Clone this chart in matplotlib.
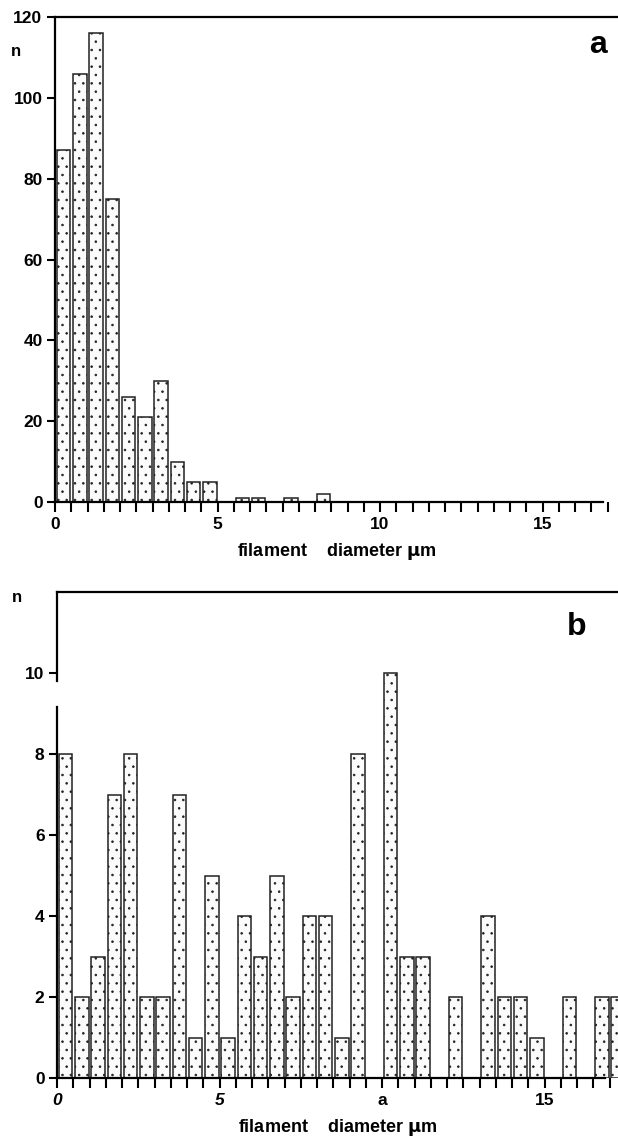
import numpy as np
import matplotlib.pyplot as plt
from matplotlib.ticker import MultipleLocator, FixedLocator

plt.rcParams['font.family'] = ['Liberation Sans', 'DejaVu Sans']
plt.rcParams['font.weight'] = 'bold'
plt.rcParams['hatch.color'] = '#8c8c8c'
plt.rcParams['hatch.linewidth'] = 0.6

# histogram data, bin width 0.5 um
bin_w = 0.5
counts_a = [87, 106, 116, 75, 26, 21, 30, 10, 5, 5, 0, 1, 1, 0, 1, 0, 2]
counts_b = [8, 2, 3, 7, 8, 2, 2, 7, 1, 5, 1, 4, 3, 5, 2, 4, 4, 1, 8, 0,
            10, 3, 3, 0, 2, 0, 4, 2, 2, 1, 0, 2, 0, 2, 2]
yticks_a = [0, 20, 40, 60, 80, 100, 120]
yticks_b = [0, 2, 4, 6, 8, 10]
xticks = [0, 5, 10, 15]
xlabels_a = ['0', '5', '10', '15']
xlabels_b = ['0', '5', 'a', '15']

W, H = 618, 1144
fig = plt.figure(figsize=(W / 100, H / 100), dpi=100)
ax1 = fig.add_axes([55 / W, (H - 502) / H, 1 - 55 / W, (502 - 17) / H])
ax2 = fig.add_axes([57 / W, (H - 1078) / H, 1 - 57 / W, (1078 - 592) / H])


def draw(ax, counts, x0, ymax, yticks, xlabels, tag, tagpos):
    left = np.arange(len(counts)) * bin_w + 0.06
    ax.bar(left, counts, width=0.41, align='edge', facecolor='#fbfbfb',
           edgecolor='#222222', linewidth=1.1, hatch='..', zorder=2)
    ax.set_xlim(0, (W - x0) / 32.5)
    ax.set_ylim(0, ymax)
    ax.spines['right'].set_visible(False)
    for s in ['left', 'bottom', 'top']:
        ax.spines[s].set_linewidth(1.6)
    ax.spines['bottom'].set_bounds(0, 16.85)
    ax.xaxis.set_major_locator(FixedLocator(xticks))
    ax.xaxis.set_minor_locator(MultipleLocator(0.5))
    ax.set_xticklabels(xlabels)
    ax.yaxis.set_major_locator(FixedLocator(yticks))
    ax.tick_params(axis='x', which='both', direction='out', length=7, width=1.5,
                   labelsize=12.5, pad=4)
    ax.tick_params(axis='y', direction='out', length=6, width=1.5,
                   labelsize=12.5, pad=3)
    ax.set_xlabel('filament    diameter $\\mathbf{\\mu}$m', fontsize=13,
                  fontweight='bold', labelpad=6)
    ax.text(tagpos[0], tagpos[1], tag, transform=fig.transFigure, fontsize=23,
            fontweight='bold', ha='center', va='center')


draw(ax1, counts_a, 55, 120, yticks_a, xlabels_a, 'a', (598 / W, 1 - 45 / H))
draw(ax2, counts_b, 57, 12, yticks_b, xlabels_b, 'b', (577 / W, 1 - 627 / H))

for lab in ax2.get_xticklabels()[:2]:
    lab.set_style('italic')

# scan gap in the left axis of panel b
ax2.spines['left'].set_bounds(0, 9.15)
ax2.plot([0, 0], [9.8, 12], color='black', lw=1.6, clip_on=False, zorder=3)

fig.text(16 / W, 1 - 52 / H, 'n', fontsize=12, fontweight='bold', ha='center', va='center')
fig.text(17 / W, 1 - 597 / H, 'n', fontsize=12, fontweight='bold', ha='center', va='center')

fig.savefig('out.png', dpi=100)
